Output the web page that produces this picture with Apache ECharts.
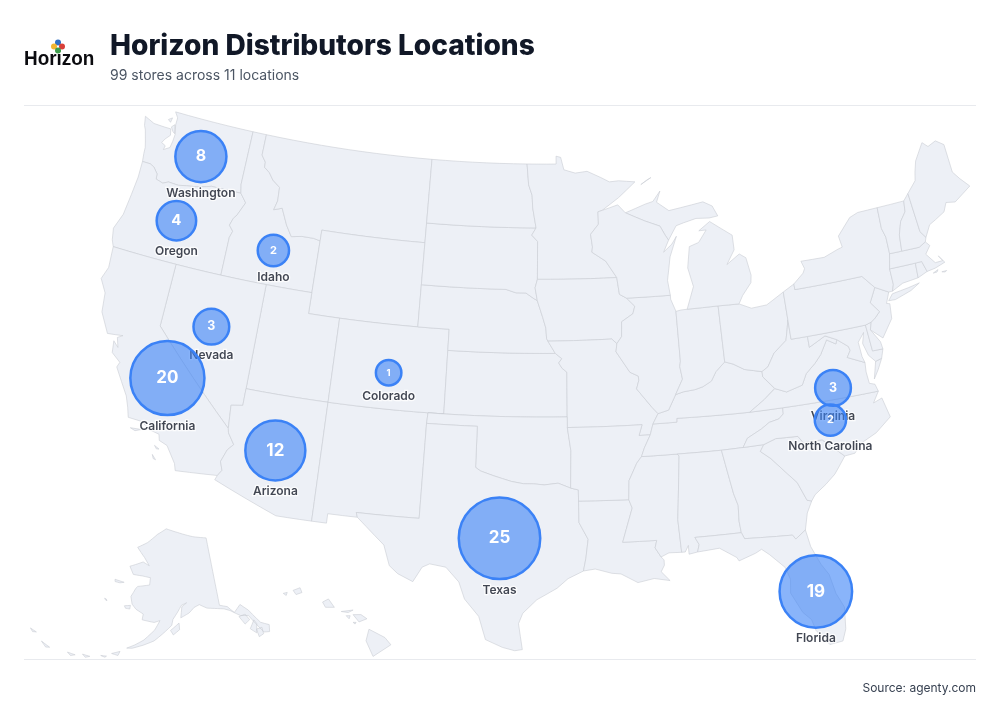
<!DOCTYPE html>
<html>
<head>
<meta charset="utf-8">
<title>Horizon Distributors Locations</title>
<script src="https://cdn.jsdelivr.net/npm/echarts@6/dist/echarts.min.js"></script>
<style>
  html, body { margin: 0; padding: 0; background: #ffffff; }
  #map-chart { width: 1000px; height: 720px; }
</style>
</head>
<body>
<div id="map-chart"></div>
<script>
// chart values
var storeStates = ['Washington', 'Oregon', 'Idaho', 'Nevada', 'California', 'Colorado', 'Arizona', 'Texas', 'Florida', 'Virginia', 'North Carolina'];
var storeCounts = [8, 4, 2, 3, 20, 1, 12, 25, 19, 3, 2];
var storeLons = [-120.2, -120.7, -114.0, -116.9, -118.8, -105.6, -111.7, -98.5, -81.4, -78.5, -79.0];
var storeLats = [47.25, 44.0, 43.65, 39.53, 36.7, 38.72, 34.38, 31.25, 27.75, 37.12, 35.65];

var titleText = 'Horizon Distributors Locations';
var subtitleText = '99 stores across 11 locations';
var sourceText = 'Source: agenty.com';

// state outlines, lon/lat pairs, one flat list per ring
var stateShapes = {
  Washington: [
    [-122.76,49,-117.03,49,-117.04,46.42,-116.92,46,-118.98,46,-119.3,45.93,-120,45.8,-120.65,45.73,-121.2,45.65,-121.9,45.68,-122.25,45.55,-122.76,45.65,-122.8,45.9,-123.15,46.18,-123.45,46.27,-124,46.27,-124.07,46.65,-124.1,46.95,-124.2,47.2,-124.45,47.75,-124.6,47.95,-124.73,48.38,-124,48.17,-123.2,48.15,-122.75,48.15,-122.65,47.85,-122.95,47.6,-123.1,47.4,-122.8,47.3,-122.85,47.1,-122.45,47.28,-122.38,47.6,-122.35,47.95,-122.5,48.4,-122.5,48.75],
    [-123.1,48.55,-122.85,48.68,-122.9,48.45],
    [-122.75,48.25,-122.55,48.4,-122.4,47.98,-122.55,48.05]
  ],
  Oregon: [[-124,46.27,-123.45,46.27,-123.15,46.18,-122.8,45.9,-122.76,45.65,-122.25,45.55,-121.9,45.68,-121.2,45.65,-120.65,45.73,-120,45.8,-119.3,45.93,-118.98,46,-116.92,46,-116.46,45.6,-116.85,44.95,-117.05,44.75,-117.2,44.4,-116.9,44.15,-117.03,43.83,-117.03,42,-120,42,-124.21,42,-124.4,42.3,-124.55,42.84,-124.2,43.6,-124.07,44.6,-123.97,45.5]],
  Idaho: [[-117.03,49,-116.05,49,-116.05,48,-115.72,47.7,-115.7,47.45,-115.3,47.25,-114.95,46.93,-114.4,46.65,-114.35,46,-114.5,45.55,-113.95,45.7,-113.45,44.95,-113,44.45,-112.3,44.55,-111.5,44.55,-111.05,44.48,-111.05,42,-114.04,42,-117.03,42,-117.03,43.83,-116.9,44.15,-117.2,44.4,-117.05,44.75,-116.85,44.95,-116.46,45.6,-116.92,46,-117.04,46.42]],
  Montana: [[-116.05,49,-104.05,49,-104.05,45.94,-104.05,45,-111.05,45,-111.05,44.48,-111.5,44.55,-112.3,44.55,-113,44.45,-113.45,44.95,-113.95,45.7,-114.5,45.55,-114.35,46,-114.4,46.65,-114.95,46.93,-115.3,47.25,-115.7,47.45,-115.72,47.7,-116.05,48]],
  Wyoming: [[-111.05,45,-104.05,45,-104.05,43,-104.05,41,-109.05,41,-111.05,41,-111.05,42,-111.05,44.48]],
  Utah: [[-114.04,42,-111.05,42,-111.05,41,-109.05,41,-109.05,37,-114.05,37]],
  Nevada: [[-120,42,-114.04,42,-114.05,37,-114.05,36.2,-114.74,36.1,-114.63,35,-120,39]],
  California: [
    [-124.21,42,-120,42,-120,39,-114.63,35,-114.57,34.8,-114.14,34.3,-114.45,34,-114.7,33.4,-114.52,33,-114.72,32.72,-117.12,32.53,-117.25,32.85,-117.9,33.6,-118.4,33.75,-118.5,34.03,-119.2,34.15,-119.6,34.42,-120.47,34.45,-120.65,34.9,-120.9,35.4,-121.9,36.6,-121.8,36.85,-122.4,37.2,-122.5,37.75,-122.15,37.5,-122.35,37.95,-122.05,38.1,-122.5,38.05,-123,38,-123.7,38.9,-123.85,39.8,-124.35,40.4,-124.1,41],
    [-120.2,34,-119.55,34.05,-119.9,33.92],
    [-118.6,33.47,-118.3,33.35,-118.45,33.33],
    [-118.6,33.03,-118.35,32.82,-118.5,32.85]
  ],
  Arizona: [[-114.05,37,-109.05,37,-109.05,31.33,-111.07,31.33,-114.82,32.5,-114.72,32.72,-114.52,33,-114.7,33.4,-114.45,34,-114.14,34.3,-114.57,34.8,-114.63,35,-114.74,36.1,-114.05,36.2]],
  'New Mexico': [[-109.05,37,-103,37,-103.04,36.5,-103.06,32,-106.62,32,-106.53,31.78,-108.21,31.78,-108.21,31.33,-109.05,31.33]],
  Colorado: [[-109.05,41,-104.05,41,-102.05,41,-102.05,40,-102.05,37,-103,37,-109.05,37]],
  Kansas: [[-102.05,40,-95.31,40,-94.9,39.75,-95.1,39.55,-94.9,39.3,-94.6,39.11,-94.62,37,-103,37,-102.05,37]],
  Nebraska: [[-104.05,43,-98.5,43,-97.85,42.85,-97.2,42.85,-96.7,42.6,-96.45,42.49,-96.1,41.7,-95.9,41.2,-95.85,40.7,-95.77,40.58,-95.31,40,-102.05,40,-102.05,41,-104.05,41]],
  'South Dakota': [[-104.05,45.94,-96.56,45.94,-96.85,45.6,-96.45,45.3,-96.45,43.5,-96.6,43.1,-96.45,42.49,-96.7,42.6,-97.2,42.85,-97.85,42.85,-98.5,43,-104.05,43]],
  'North Dakota': [[-104.05,49,-97.23,49,-97.1,48,-96.85,47.5,-96.8,46.9,-96.56,45.94,-104.05,45.94]],
  Minnesota: [
    [-97.23,49,-95.15,49,-95.15,49.38,-94.82,49.32,-94.6,48.72,-93.8,48.55,-92.95,48.62,-92,48.3,-91.4,48.07,-90.75,48.1,-89.6,48,-90.8,47.3,-92,46.72,-92.29,46.66,-92.29,46.07,-92.85,45.6,-92.75,45,-92.8,44.75,-91.9,44.3,-91.22,43.5,-96.45,43.5,-96.45,45.3,-96.85,45.6,-96.56,45.94,-96.8,46.9,-96.85,47.5,-97.1,48],
    [-89.2,47.85,-88.45,48.15,-88.75,48.05]
  ],
  Iowa: [[-96.45,43.5,-91.22,43.5,-91.1,42.7,-90.65,42.5,-90.15,42.1,-90.3,41.75,-91.05,41.4,-91.1,40.7,-91.42,40.38,-91.73,40.61,-95.77,40.58,-95.85,40.7,-95.9,41.2,-96.1,41.7,-96.45,42.49,-96.6,43.1]],
  Missouri: [[-95.77,40.58,-91.73,40.61,-91.42,40.38,-91.5,40,-90.7,39,-90.2,38.8,-90.18,38.6,-90.35,38.2,-89.5,37.3,-89.15,36.97,-89.5,36.5,-89.7,36,-90.37,36,-90.15,36.5,-94.62,36.5,-94.62,37,-94.6,39.11,-94.9,39.3,-95.1,39.55,-94.9,39.75,-95.31,40]],
  Oklahoma: [[-103,37,-94.62,37,-94.62,36.5,-94.43,35.4,-94.48,33.64,-95.2,33.88,-96,33.8,-96.6,33.85,-97.2,33.85,-97.9,33.95,-98.95,34.2,-99.7,34.4,-100,34.56,-100,36.5,-103.04,36.5]],
  Texas: [[-103.04,36.5,-100,36.5,-100,34.56,-99.7,34.4,-98.95,34.2,-97.9,33.95,-97.2,33.85,-96.6,33.85,-96,33.8,-95.2,33.88,-94.48,33.64,-94.04,33.55,-94.04,33.02,-94.04,32,-93.55,31.2,-93.7,30.3,-93.85,29.7,-94.7,29.35,-95.3,28.9,-96.4,28.35,-97.15,27.7,-97.37,27.2,-97.15,25.96,-97.55,25.9,-98.2,26.05,-99.1,26.4,-99.5,27.5,-100.3,28.3,-100.65,29.1,-101.4,29.77,-102.3,29.88,-102.7,29.7,-103.15,28.98,-104,29.3,-104.5,29.65,-104.9,30.6,-106,31.4,-106.53,31.78,-106.62,32,-103.06,32]],
  Louisiana: [[-94.04,33.02,-91.17,33,-91,32.6,-91.4,31.6,-91.63,31,-89.73,31,-89.85,30.65,-89.55,30.2,-89.4,30.05,-89.4,29.8,-89.6,29.5,-89.15,29.05,-90,29.2,-90.9,29.05,-91.8,29.5,-92.3,29.55,-93.2,29.78,-93.85,29.7,-93.7,30.3,-93.55,31.2,-94.04,32]],
  Arkansas: [[-94.62,36.5,-90.15,36.5,-90.37,36,-89.7,36,-90.1,35.4,-90.3,35,-90.6,34.7,-91.1,33.9,-91.17,33,-94.04,33.02,-94.04,33.55,-94.48,33.64,-94.43,35.4]],
  Mississippi: [[-90.3,35,-88.2,35,-88.1,34.9,-88.47,31.9,-88.4,30.35,-89.1,30.37,-89.55,30.2,-89.85,30.65,-89.73,31,-91.63,31,-91.4,31.6,-91,32.6,-91.17,33,-91.1,33.9,-90.6,34.7]],
  Tennessee: [[-90.3,35,-90.1,35.4,-89.7,36,-89.5,36.5,-88.07,36.5,-88.05,36.68,-83.67,36.6,-81.68,36.59,-81.7,36.3,-82,36.1,-82.6,36,-83.1,35.75,-84,35.4,-84.32,34.99,-85.6,34.98,-88.2,35]],
  Kentucky: [[-89.5,36.5,-89.15,36.97,-88.5,37.1,-88,37.8,-87.5,37.9,-86.8,37.95,-86.3,38.05,-85.75,38.27,-85.4,38.7,-84.8,39.1,-84.3,38.95,-83.65,38.63,-82.6,38.42,-82.6,38.17,-82,37.55,-81.97,37.54,-82.7,37.1,-83.67,36.6,-88.05,36.68,-88.07,36.5]],
  Illinois: [[-91.42,40.38,-91.1,40.7,-91.05,41.4,-90.3,41.75,-90.15,42.1,-90.65,42.5,-87.8,42.49,-87.8,42.3,-87.53,41.71,-87.53,39.35,-87.6,39.1,-87.5,38.5,-88,37.8,-88.5,37.1,-89.15,36.97,-89.5,37.3,-90.35,38.2,-90.18,38.6,-90.2,38.8,-90.7,39,-91.5,40]],
  Indiana: [[-87.53,41.71,-87.2,41.75,-86.8,41.76,-84.8,41.76,-84.8,39.1,-85.4,38.7,-85.75,38.27,-86.3,38.05,-86.8,37.95,-87.5,37.9,-88,37.8,-87.5,38.5,-87.6,39.1,-87.53,39.35]],
  Ohio: [[-84.8,41.76,-83.45,41.73,-82.7,41.45,-81.7,41.5,-80.52,41.98,-80.52,40.64,-80.7,40.1,-80.85,39.7,-81.7,39.2,-82.2,38.6,-82.6,38.42,-83.65,38.63,-84.3,38.95,-84.8,39.1]],
  Michigan: [
    [-86.8,41.76,-84.8,41.76,-83.45,41.73,-83.15,42.1,-82.5,42.65,-82.42,43,-82.6,43.85,-83,44.07,-83.9,43.65,-83.3,44.3,-83.3,45,-84.7,45.78,-85.5,45.4,-85,45.4,-85.6,44.85,-86.25,44.7,-86.5,43.7,-86.25,42.8],
    [-90.4,46.55,-89,46.9,-88.45,47,-87.9,47.47,-88.2,46.95,-87.4,46.5,-85,46.75,-84.4,46.5,-84.1,46,-84.7,45.95,-85.6,46,-86.5,45.85,-87,45.75,-87.6,45.1,-87.8,45.35,-88.1,45.8,-89.1,46.1]
  ],
  Wisconsin: [[-92.29,46.66,-92,46.72,-90.9,46.95,-90.4,46.55,-89.1,46.1,-88.1,45.8,-87.8,45.35,-87.6,45.1,-88,44.55,-87.4,44.9,-87.05,45.25,-87.6,44.3,-87.9,43.2,-87.8,42.49,-90.65,42.5,-91.1,42.7,-91.22,43.5,-91.9,44.3,-92.8,44.75,-92.75,45,-92.85,45.6,-92.29,46.07]],
  Alabama: [[-88.2,35,-85.6,34.98,-85.18,32.87,-85,32.3,-85.05,31.55,-85,31,-87.6,31,-87.4,30.65,-87.52,30.3,-88,30.23,-88,30.65,-88.2,30.35,-88.4,30.35,-88.47,31.9,-88.1,34.9]],
  Georgia: [[-85.6,34.98,-84.32,34.99,-83.1,35,-83.35,34.7,-82.8,34.3,-82,33.5,-81.5,33,-81.1,32.1,-80.85,32.03,-81.2,31.5,-81.45,30.72,-82.05,30.36,-82.2,30.57,-84.86,30.7,-85,31,-85.05,31.55,-85,32.3,-85.18,32.87]],
  Florida: [[-87.6,31,-85,31,-84.86,30.7,-82.2,30.57,-82.05,30.36,-81.45,30.72,-81.3,29.9,-80.9,29,-80.55,28.45,-80.35,27.5,-80.03,26.8,-80.15,25.75,-80.4,25.2,-81.1,25.13,-81.7,25.9,-81.85,26.45,-82.25,26.85,-82.75,27.85,-82.65,28.5,-82.85,29.1,-83.6,29.8,-84,30.1,-84.35,29.95,-85.3,29.68,-85.4,29.85,-86.3,30.38,-87.52,30.3,-87.4,30.65]],
  'South Carolina': [[-83.1,35,-82.35,35.2,-81.05,35.15,-80.8,34.82,-79.68,34.8,-78.55,33.86,-79,33.4,-79.3,33.1,-79.9,32.7,-80.6,32.3,-80.85,32.03,-81.1,32.1,-81.5,33,-82,33.5,-82.8,34.3,-83.35,34.7]],
  'North Carolina': [[-84.32,34.99,-84,35.4,-83.1,35.75,-82.6,36,-82,36.1,-81.7,36.3,-81.68,36.59,-75.87,36.55,-76.3,36.05,-75.75,36.2,-75.5,35.25,-76.5,34.65,-77.5,34.3,-77.95,33.9,-78.55,33.86,-79.68,34.8,-80.8,34.82,-81.05,35.15,-82.35,35.2,-83.1,35]],
  Virginia: [
    [-83.67,36.6,-82.7,37.1,-81.97,37.54,-81.3,37.3,-80.3,37.5,-79.95,38,-79.3,38.42,-78.87,38.77,-78.35,39.4,-77.83,39.13,-77.72,39.32,-77.1,38.9,-77.04,38.7,-77.3,38.4,-76.3,38,-76.35,37.55,-76.3,37,-75.98,36.9,-75.87,36.55,-81.68,36.59],
    [-75.95,37.15,-75.6,37.55,-75.25,38.03,-75.65,37.95]
  ],
  'West Virginia': [[-81.97,37.54,-82,37.55,-82.6,38.17,-82.6,38.42,-82.2,38.6,-81.7,39.2,-80.85,39.7,-80.7,40.1,-80.52,40.64,-80.52,39.72,-79.48,39.72,-79.48,39.2,-78.4,39.6,-77.72,39.32,-77.83,39.13,-78.35,39.4,-78.87,38.77,-79.3,38.42,-79.95,38,-80.3,37.5,-81.3,37.3]],
  Maryland: [[-79.48,39.72,-75.79,39.72,-75.7,38.46,-75.05,38.45,-75.25,38.03,-75.65,37.95,-76,38.3,-76.2,38.9,-76,39.4,-76.45,39,-76.4,38.3,-76.3,38,-77.3,38.4,-77.04,38.7,-77.1,38.9,-77.72,39.32,-78.4,39.6,-79.48,39.2]],
  Delaware: [[-75.79,39.72,-75.4,39.8,-75.55,39.45,-75.1,38.8,-75.05,38.45,-75.7,38.46]],
  'New Jersey': [[-75.4,39.8,-75.1,39.95,-74.75,40.2,-75.2,40.7,-74.7,41.36,-73.9,41,-74.2,40.5,-74,40.45,-74.1,39.75,-74.9,38.95,-75.55,39.45]],
  Pennsylvania: [[-80.52,41.98,-79.76,42.27,-79.76,42,-75.35,42,-74.7,41.36,-75.2,40.7,-74.75,40.2,-75.1,39.95,-75.4,39.8,-75.79,39.72,-79.48,39.72,-80.52,39.72,-80.52,40.64]],
  'New York': [
    [-79.76,42.27,-79.05,42.7,-78.9,42.9,-79.05,43.27,-77.5,43.25,-76.5,43.5,-76.2,43.55,-76.3,44.1,-75.3,44.85,-74.7,45,-73.35,45.01,-73.4,44,-73.25,43.55,-73.27,42.75,-73.5,42.05,-73.5,41.3,-73.65,41,-73.9,41,-74.7,41.36,-75.35,42,-79.76,42],
    [-74.03,40.6,-73.7,40.88,-72.6,40.98,-71.87,41.07,-72.5,40.82,-73.6,40.58]
  ],
  Connecticut: [[-73.5,42.05,-71.8,42.02,-71.86,41.32,-72.9,41.25,-73.65,41,-73.5,41.3]],
  'Rhode Island': [[-71.8,42.02,-71.38,42.02,-71.2,41.5,-71.86,41.32]],
  Massachusetts: [
    [-73.27,42.75,-72.46,42.73,-71.3,42.7,-70.82,42.87,-70.6,42.65,-71,42.3,-70.55,41.8,-70.05,41.8,-70.25,42.07,-69.95,41.7,-70.65,41.55,-71.2,41.5,-71.38,42.02,-71.8,42.02,-73.5,42.05],
    [-70.85,41.35,-70.5,41.45,-70.6,41.35],
    [-70.3,41.3,-69.98,41.3,-70.1,41.25]
  ],
  Vermont: [[-73.35,45.01,-71.5,45.01,-71.6,44.5,-72.05,44.1,-72.35,43.5,-72.46,42.73,-73.27,42.75,-73.25,43.55,-73.4,44]],
  'New Hampshire': [[-71.5,45.01,-71.1,45.3,-70.98,43.4,-70.7,43.07,-70.82,42.87,-71.3,42.7,-72.46,42.73,-72.35,43.5,-72.05,44.1,-71.6,44.5]],
  Maine: [[-71.1,45.3,-70.4,45.8,-70.25,46.2,-70,46.7,-69.23,47.46,-68.9,47.2,-68.3,47.36,-67.8,47.07,-67.8,45.7,-67.45,45.3,-66.95,44.82,-68.2,44.3,-68.8,44.4,-69.1,44,-69.8,43.75,-70.25,43.6,-70.7,43.07,-70.98,43.4]],
  Alaska: [
    [-141,69.65,-141,60.3,-139,59.9,-137.5,58.9,-135.5,59.75,-133.8,58.7,-131.8,56.6,-130,55.9,-130.5,55,-131.8,55.2,-133,56.6,-134.2,58,-136.2,58.3,-138.5,59.3,-140,59.7,-142.5,60,-144.5,60.2,-146.5,60.8,-148,60.5,-149.5,59.8,-151.8,59.2,-151.4,60.7,-150,61.2,-151.5,60.9,-152.6,60,-153.9,59,-154.2,58.2,-156.5,57,-158.5,56,-161,55.3,-163.5,54.7,-164.8,54.6,-163,55.2,-161,56,-158.5,57.5,-157.3,58.8,-158.8,58.5,-162,58.7,-161.9,59.5,-164,60,-165.3,60.6,-166,61.6,-165,62.8,-164.5,63.1,-161,63.5,-161,64.5,-163.5,64.6,-166.5,64.6,-168.1,65.6,-164,66.5,-161.8,66.1,-163.7,67.1,-166.8,68.35,-163.5,69.2,-160,70.5,-156.6,71.35,-152,70.85,-146,70.1],
    [-154.5,57.5,-152.3,58.5,-152.2,57.6,-153.8,56.9],
    [-167.3,60.2,-165.7,60.4,-165.7,59.9,-166.9,59.9],
    [-171.7,63.4,-168.8,63.3,-170,63.1,-171.5,63.1],
    [-173.1,60.55,-172.9,60.4,-172.3,60.3,-172.6,60.5],
    [-136.6,58.2,-134.9,58.3,-134.2,57.4,-135.6,57],
    [-134.7,56.2,-133.2,57.2,-132.8,56.6,-133.5,55.4],
    [-133.3,55.9,-131.9,55.9,-132,55,-133.2,54.8],
    [-168,53.5,-166.2,54,-166.5,53.4],
    [-170.3,52.9,-169,53,-169.3,52.8],
    [-174.3,52.4,-172.6,52.4,-173.5,52.1],
    [-177.6,52,-175.8,52,-176.7,51.7],
    [-183.8,52,-181.6,51.7,-182.4,51.5],
    [-187.3,52.9,-185.7,52.8,-186.5,52.6]
  ],
  Hawaii: [
    [-155.9,20.25,-155.1,19.85,-154.8,19.5,-155.7,18.95,-156.05,19.7],
    [-156.7,20.95,-156.3,20.95,-156,20.75,-156.4,20.6],
    [-158.25,21.55,-157.95,21.7,-157.65,21.3,-158.1,21.3],
    [-159.75,22.1,-159.4,22.23,-159.3,22,-159.6,21.9],
    [-157.3,21.1,-156.7,21.17,-156.95,21.05],
    [-157.05,20.9,-156.85,20.9,-156.9,20.75],
    [-160.25,21.95,-160.05,22,-160.1,21.85],
    [-156.7,20.58,-156.55,20.58,-156.6,20.5]
  ]
};

// albers usa: lower 48 plus the alaska and hawaii insets
function makeConic(lon0, p1, p2, lonC, latC, k, tx, ty) {
  var rad = Math.PI / 180;
  var n = (Math.sin(p1 * rad) + Math.sin(p2 * rad)) / 2;
  var c = Math.pow(Math.cos(p1 * rad), 2) + 2 * n * Math.sin(p1 * rad);
  function raw(lon, lat) {
    var r = Math.sqrt(c - 2 * n * Math.sin(lat * rad)) / n;
    var a = (lon - lon0) * rad * n;
    return [r * Math.sin(a), -r * Math.cos(a)];
  }
  var o = raw(lonC, latC);
  return function (lon, lat) {
    var p = raw(lon, lat);
    return [tx + k * (p[0] - o[0]), ty - k * (p[1] - o[1])];
  };
}
var mapScale = 1204, mapX = 534.5, mapY = 381;
var lower48 = makeConic(-96, 29.5, 45.5, -96.6, 38.7, mapScale, mapX, mapY);
var alaskaInset = makeConic(-154, 55, 65, -156, 58.5, mapScale * 0.35, mapX - 0.307 * mapScale, mapY + 0.201 * mapScale);
var hawaiiInset = makeConic(-157, 8, 18, -160, 19.9, mapScale, mapX - 0.205 * mapScale, mapY + 0.212 * mapScale);

function projectPoint(pt) {
  if (pt[1] > 50.5 && pt[0] < -129.5) return alaskaInset(pt[0], pt[1]);
  if (pt[1] < 23 && pt[0] < -150) return hawaiiInset(pt[0], pt[1]);
  return lower48(pt[0], pt[1]);
}

// long straight borders have to follow the curved parallels
function buildRing(flat) {
  var pts = [];
  for (var i = 0; i < flat.length; i += 2) pts.push([flat[i], flat[i + 1]]);
  pts.push(pts[0]);
  var out = [pts[0]];
  for (var j = 1; j < pts.length; j++) {
    var a = pts[j - 1], b = pts[j];
    var steps = Math.ceil(Math.max(Math.abs(b[0] - a[0]), Math.abs(b[1] - a[1])));
    for (var s = 1; s <= steps; s++) {
      out.push([a[0] + (b[0] - a[0]) * s / steps, a[1] + (b[1] - a[1]) * s / steps]);
    }
  }
  return out;
}

var features = [];
var minX = Infinity, minY = Infinity, maxX = -Infinity, maxY = -Infinity;
Object.keys(stateShapes).forEach(function (name) {
  var polys = stateShapes[name].map(function (flat) {
    var ring = buildRing(flat);
    ring.forEach(function (pt) {
      var p = projectPoint(pt);
      minX = Math.min(minX, p[0]); maxX = Math.max(maxX, p[0]);
      minY = Math.min(minY, p[1]); maxY = Math.max(maxY, p[1]);
    });
    return [ring];
  });
  features.push({
    type: 'Feature',
    properties: { name: name },
    geometry: { type: 'MultiPolygon', coordinates: polys }
  });
});
echarts.registerMap('usa', { type: 'FeatureCollection', features: features });

function bubbleSize(count) { return 2 * (7 + 7 * Math.sqrt(count)) - 2.5; }
function valueFont(count) {
  if (count < 2) return 9.5;
  if (count < 3) return 11;
  if (count < 4) return 12.5;
  if (count < 5) return 15;
  if (count < 9) return 16;
  return 17;
}

// one pair of series per state, so a later bubble covers an earlier name
var series = [];
storeStates.forEach(function (state, i) {
  var point = { name: state, value: [storeLons[i], storeLats[i], storeCounts[i]] };
  series.push({
    type: 'scatter',
    coordinateSystem: 'geo',
    geoIndex: 0,
    z: 10 + i * 2,
    silent: true,
    symbolSize: bubbleSize(storeCounts[i]),
    itemStyle: { color: 'rgba(0,0,0,0)' },
    label: {
      show: true,
      position: 'bottom',
      distance: 5,
      formatter: '{b}',
      fontFamily: 'Inter',
      fontSize: 12,
      fontWeight: 600,
      color: '#111827',
      textBorderColor: '#ffffff',
      textBorderWidth: 2.5
    },
    data: [point]
  });
  series.push({
    type: 'scatter',
    coordinateSystem: 'geo',
    geoIndex: 0,
    z: 11 + i * 2,
    silent: true,
    symbolSize: bubbleSize(storeCounts[i]),
    itemStyle: { color: 'rgba(59,130,246,0.6)', borderColor: '#3b82f6', borderWidth: 2.5, opacity: 1 },
    label: {
      show: true,
      position: 'inside',
      formatter: function (p) { return p.value[2]; },
      fontFamily: 'Inter',
      fontSize: valueFont(storeCounts[i]),
      fontWeight: 700,
      color: '#ffffff'
    },
    data: [point]
  });
});

var chartDom = document.getElementById('map-chart');
var mapChart = echarts.init(chartDom);

var option = {
  animation: false,
  backgroundColor: '#ffffff',
  title: {
    text: titleText,
    subtext: subtitleText,
    left: 110,
    top: 33,
    itemGap: 8,
    padding: 0,
    textStyle: { fontFamily: 'Inter', fontSize: 28.1, fontWeight: 800, color: '#111827' },
    subtextStyle: { fontFamily: 'Inter', fontSize: 14, fontWeight: 400, color: '#4b5563' }
  },
  geo: {
    map: 'usa',
    roam: false,
    silent: true,
    left: minX,
    top: minY,
    width: maxX - minX,
    height: maxY - minY,
    projection: {
      project: projectPoint,
      unproject: function (p) { return p; }
    },
    label: { show: false },
    itemStyle: { areaColor: '#edf0f6', borderColor: '#c9ccd3', borderWidth: 0.6 },
    emphasis: { disabled: true }
  },
  graphic: [
    { type: 'line', silent: true, shape: { x1: 24, y1: 105.5, x2: 976, y2: 105.5 }, style: { stroke: '#e8eaee', lineWidth: 1 } },
    { type: 'line', silent: true, shape: { x1: 24, y1: 659.5, x2: 976, y2: 659.5 }, style: { stroke: '#e8eaee', lineWidth: 1 } },
    { type: 'text', silent: true, x: 976, y: 682, style: { text: sourceText, align: 'right', fontFamily: 'Inter', fontSize: 12, fill: '#374151' } },
    // logo, letters squeezed to the width of the wordmark
    { type: 'text', silent: true, x: 24, y: 48.5, scaleX: 0.9, style: { text: 'Horizon', fontFamily: 'Liberation Sans', fontWeight: 700, fontSize: 21, fill: '#0b0b0f' } },
    { type: 'circle', silent: true, shape: { cx: 58, cy: 42.5, r: 3 }, style: { fill: '#2f6fc4' } },
    { type: 'circle', silent: true, shape: { cx: 54, cy: 46.5, r: 3 }, style: { fill: '#f2b632' } },
    { type: 'circle', silent: true, shape: { cx: 62, cy: 46.5, r: 3 }, style: { fill: '#d8403a' } },
    { type: 'circle', silent: true, shape: { cx: 58, cy: 50.5, r: 3 }, style: { fill: '#3f9e4d' } }
  ],
  series: series
};

mapChart.setOption(option);
</script>
</body>
</html>
